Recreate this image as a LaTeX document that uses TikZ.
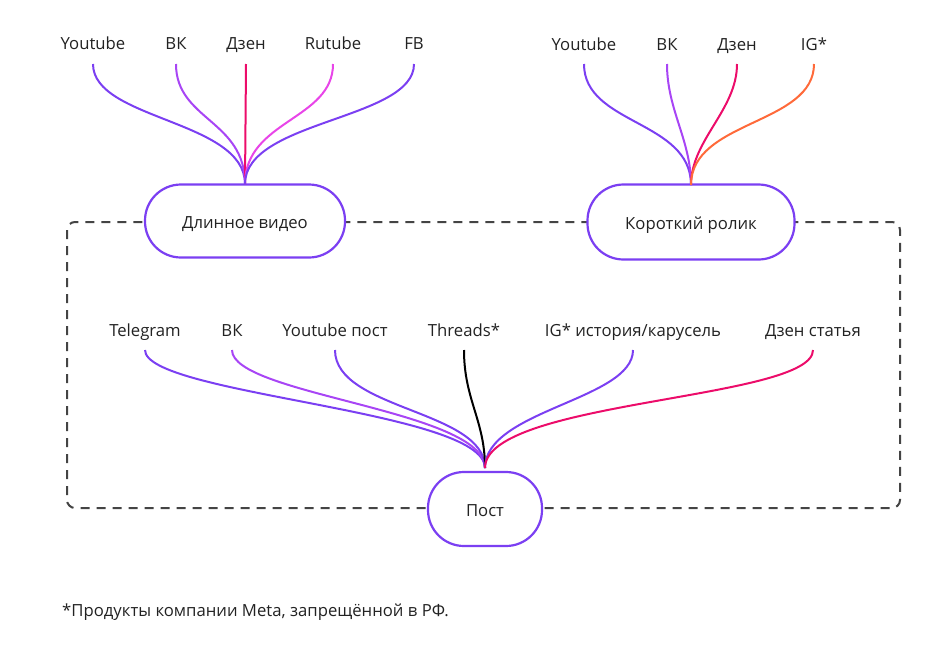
\documentclass[tikz,border=0pt]{standalone}
\usepackage{fontspec}
\setmainfont{Open Sans}
\definecolor{cviolet}{HTML}{7B3FF2}
\definecolor{cvk}{HTML}{A845F5}
\definecolor{czen}{HTML}{EC0C6A}
\definecolor{crutube}{HTML}{E845E8}
\definecolor{cig}{HTML}{FF6A3A}
\definecolor{cdash}{HTML}{444444}
\definecolor{ctext}{HTML}{222222}
\begin{document}
\begin{tikzpicture}[x=1pt,y=-1pt,
  lbl/.style={font=\fontsize{16.7}{20}\selectfont, text=ctext, inner sep=0pt, anchor=base},
  pill/.style={draw=cviolet, line width=2.2pt, rounded corners=36pt, fill=white, font=\fontsize{16.7}{20}\selectfont, text=ctext, inner sep=0pt},
  conn/.style={line width=2pt},
  frame/.style={draw=cdash, line width=2pt, dash pattern=on 9pt off 7pt, rounded corners=8pt}
]
\useasboundingbox (0,0) rectangle (947,645);
% frame
\draw[frame] (67,222) rectangle (900,508);
% nodes
\node[pill, minimum width=200pt, minimum height=73pt] (long) at (245,221) {};
\node[pill, minimum width=207pt, minimum height=75pt] (short) at (691,222) {};
\node[pill, minimum width=114pt, minimum height=74pt] (post) at (485,509) {};
\node[lbl] (longt) at (245,228) {Длинное видео};
\node[lbl] (shortt) at (691,229) {Короткий ролик};
\node[lbl] (postt) at (485,516) {Пост};
% top labels - long
\node[lbl] (l1) at (93,49) {Youtube};
\node[lbl] (l2) at (176,49) {ВК};
\node[lbl] (l3) at (246,49) {Дзен};
\node[lbl] (l4) at (333,49) {Rutube};
\node[lbl] (l5) at (414,49) {FB};
% top labels - short
\node[lbl] (s1) at (584,50) {Youtube};
\node[lbl] (s2) at (667,50) {ВК};
\node[lbl] (s3) at (737,50) {Дзен};
\node[lbl] (s4) at (814,50) {IG*};
% post labels
\node[lbl] (p1) at (145,336) {Telegram};
\node[lbl] (p2) at (232,336) {ВК};
\node[lbl] (p3) at (335,336) {Youtube пост};
\node[lbl] (p4) at (464,336) {Threads*};
\node[lbl] (p5) at (633,336) {IG* история/карусель};
\node[lbl] (p6) at (813,336) {Дзен статья};
% footnote
\node[lbl, anchor=base west] (foot) at (62,616) {*Продукты компании Meta, запрещённой в РФ.};
% coordinates
\coordinate (lt) at (245,184);
\coordinate (st) at (691,185);
\coordinate (pt) at (485,468);
\coordinate (l1s) at (93,64);
\coordinate (l2s) at (176,64);
\coordinate (l3s) at (246,64);
\coordinate (l4s) at (333,64);
\coordinate (l5s) at (414,64);
\coordinate (s1s) at (584,64);
\coordinate (s2s) at (667,64);
\coordinate (s3s) at (737,64);
\coordinate (s4s) at (814,64);
\coordinate (p1s) at (145,350);
\coordinate (p2s) at (232,350);
\coordinate (p3s) at (335,350);
\coordinate (p4s) at (464,350);
\coordinate (p5s) at (633,350);
\coordinate (p6s) at (813,350);
% long connectors
\draw[conn, cviolet] (l1s) .. controls (93,120) and (245,120) .. (lt);
\draw[conn, cvk] (l2s) .. controls (176,120) and (245,120) .. (lt);
\draw[conn, czen] (l3s) -- (lt);
\draw[conn, crutube] (l4s) .. controls (333,120) and (245,120) .. (lt);
\draw[conn, cviolet] (l5s) .. controls (414,120) and (245,120) .. (lt);
% short connectors
\draw[conn, cviolet] (s1s) .. controls (584,125) and (691,120) .. (st);
\draw[conn, cvk] (s2s) .. controls (667,110) and (691,140) .. (st);
\draw[conn, czen] (s3s) .. controls (737,110) and (691,140) .. (st);
\draw[conn, cig] (s4s) .. controls (814,125) and (691,120) .. (st);
% post connectors
\draw[conn, cviolet] (p1s) .. controls (145,395) and (485,410) .. (pt);
\draw[conn, cvk] (p2s) .. controls (232,395) and (485,410) .. (pt);
\draw[conn, cviolet] (p3s) .. controls (335,410) and (485,410) .. (pt);
\draw[conn, black] (p4s) .. controls (464,400) and (485,420) .. (pt);
\draw[conn, cviolet] (p5s) .. controls (633,400) and (485,410) .. (pt);
\draw[conn, czen] (p6s) .. controls (813,400) and (485,400) .. (pt);
\end{tikzpicture}
\end{document}
